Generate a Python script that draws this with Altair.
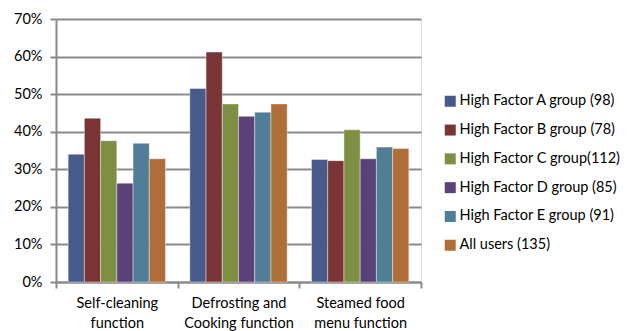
import altair as alt
import pandas as pd

categories = ["Self-cleaning function", "Defrosting and Cooking function", "Steamed food menu function"]
groups = [
    "High Factor A group (98)",
    "High Factor B group (78)",
    "High Factor C group(112)",
    "High Factor D group (85)",
    "High Factor E group (91)",
    "All users (135)",
]
colors = ["#475A8A", "#7B3436", "#7E8E42", "#5A4278", "#4F7E96", "#B06F38"]

self_cleaning = [0.340, 0.436, 0.376, 0.263, 0.369, 0.328]
defrosting = [0.515, 0.612, 0.474, 0.441, 0.452, 0.474]
steamed = [0.326, 0.323, 0.405, 0.328, 0.359, 0.355]

rows = []
for cat, vals in zip(categories, [self_cleaning, defrosting, steamed]):
    for g, v in zip(groups, vals):
        rows.append({"category": cat, "group": g, "value": v})
df = pd.DataFrame(rows)

FONT = "Lato"
GRID = "#8a8a8a"

label_expr = (
    "datum.value == 'Self-cleaning function' ? ['Self-cleaning', 'function'] : "
    "datum.value == 'Defrosting and Cooking function' ? ['Defrosting and', 'Cooking function'] : "
    "datum.value == 'Steamed food menu function' ? ['Steamed food', 'menu function'] : ''"
)

bars = alt.Chart(df).mark_bar(
    stroke="#ffffff", strokeWidth=0.8, strokeOpacity=0.5
).encode(
    x=alt.X(
        "category:N",
        sort=categories,
        scale=alt.Scale(paddingInner=0, paddingOuter=0),
        axis=alt.Axis(
            title=None,
            labelAngle=0,
            labelExpr=label_expr,
            labelFont=FONT,
            labelFontSize=14.5,
            labelColor="#000000",
            labelLineHeight=20,
            labelPadding=8,
            labelBaseline="top",
            tickBand="extent",
            ticks=True,
            tickSize=6,
            tickColor=GRID,
            tickWidth=2,
            domainColor=GRID,
            domainWidth=2,
            grid=False,
        ),
    ),
    xOffset=alt.XOffset(
        "group:N",
        sort=groups,
        scale=alt.Scale(paddingInner=0, paddingOuter=0.75),
    ),
    y=alt.Y(
        "value:Q",
        scale=alt.Scale(domain=[0, 0.7]),
        axis=alt.Axis(
            title=None,
            format=".0%",
            values=[0, 0.1, 0.2, 0.3, 0.4, 0.5, 0.6, 0.7],
            labelFont=FONT,
            labelFontSize=14.5,
            labelColor="#000000",
            labelPadding=8,
            tickSize=6,
            tickColor=GRID,
            tickWidth=2,
            domainColor=GRID,
            domainWidth=2,
            grid=True,
            gridColor=GRID,
            gridWidth=2,
        ),
    ),
    color=alt.Color(
        "group:N",
        sort=groups,
        scale=alt.Scale(domain=groups, range=colors),
        legend=alt.Legend(
            title=None,
            orient="none",
            legendX=387,
            legendY=75,
            symbolType="square",
            symbolSize=121,
            symbolStrokeWidth=0,
            labelFont=FONT,
            labelFontSize=14.5,
            labelColor="#000000",
            labelOffset=2,
            labelLimit=0,
            rowPadding=13.8,
        ),
    ),
)

chart = bars.properties(
    width=365,
    height=263,
    autosize=alt.AutoSizeParams(type="none"),
    padding={"left": 56, "top": 19, "right": 211, "bottom": 49},
).configure_view(stroke=None).configure(background="#ffffff")

chart.save("out.html", embed_options={"renderer": "svg", "actions": False})
